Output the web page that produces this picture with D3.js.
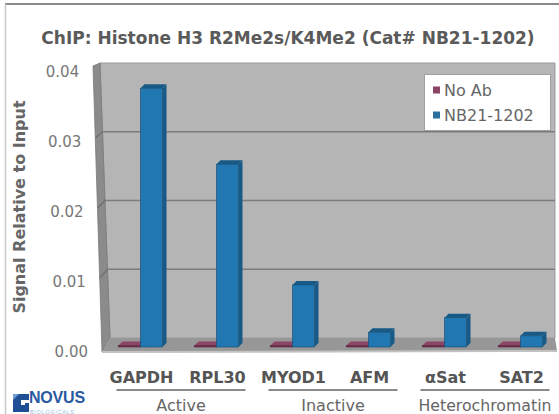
<!DOCTYPE html>
<html>
<head>
<meta charset="utf-8">
<script src="https://cdn.jsdelivr.net/npm/d3@7"></script>
<style>
html,body{margin:0;padding:0;background:#fff;}
svg{display:block;}
</style>
</head>
<body>
<svg id="chart" width="559" height="414"></svg>
<script>
// ---- data ----
const title = "ChIP: Histone H3 R2Me2s/K4Me2 (Cat# NB21-1202)";
const yAxisTitle = "Signal Relative to Input";
const categories = ["GAPDH", "RPL30", "MYOD1", "AFM", "\u03b1Sat", "SAT2"];
const seriesNames = ["No Ab", "NB21-1202"];
const noAbValues = [0.0002, 0.0002, 0.0002, 0.0002, 0.0002, 0.0002];
const nb21Values = [0.0371, 0.0262, 0.0089, 0.0021, 0.0042, 0.0016];
const yTicks = [0, 0.01, 0.02, 0.03, 0.04];
const groupNames = ["Active", "Inactive", "Heterochromatin"];
const groupMembers = [["GAPDH", "RPL30"], ["MYOD1", "AFM"], ["\u03b1Sat", "SAT2"]];

// ---- layout ----
const svg = d3.select("#chart");
const colors = {noAb: "#6f2c4a", noAbTop: "#8c4566", nb: "#2077b2", nbTop: "#185a87", nbEdge: "#154a70"};

// frame
svg.append("line").attr("x1", 5).attr("x2", 559).attr("y1", 4).attr("y2", 4)
  .attr("stroke", "#8a8a8a").attr("stroke-width", 2);
svg.append("line").attr("x1", 5.5).attr("x2", 5.5).attr("y1", 4).attr("y2", 414)
  .attr("stroke", "#c8c8c8").attr("stroke-width", 1.5);

// title
svg.append("text").attr("x", 288).attr("y", 44).attr("text-anchor", "middle")
  .attr("font-family", "DejaVu Sans").attr("font-weight", "bold").attr("font-size", 17)
  .attr("fill", "#5a5a5a").text(title);

// scales
const yBack = d3.scaleLinear().domain([0, 0.04]).range([338, 63]);
const yFront = d3.scaleLinear().domain([0, 0.04]).range([352, 72]);
const yBar = d3.scaleLinear().domain([0, 0.04]).range([347, 68]);
const x = d3.scaleBand().domain(categories).range([103.5, 559.5]);
const barW = 22;

// geometry helpers for the walls
const backLeft = y => 100 + 10 * (y - 63) / (338 - 63);
const frontLeft = y => 93 + 9 * (y - 66) / (352 - 66);
const wallRight = 555;

// back wall
svg.append("polygon")
  .attr("points", [[100, 63], [wallRight, 63], [wallRight, 338], [110, 338]].map(p => p.join(",")).join(" "))
  .attr("fill", "#b5b5b5").attr("stroke", "#9a9a9a").attr("stroke-width", 1);
// left side wall
svg.append("polygon")
  .attr("points", [[93, 66], [100, 63], [110, 338], [102, 352]].map(p => p.join(",")).join(" "))
  .attr("fill", "#8b8b8b").attr("stroke", "#7a7a7a").attr("stroke-width", 0.8);
// floor
svg.append("polygon")
  .attr("points", [[110, 338], [wallRight, 338], [wallRight + 2, 351], [102, 352]].map(p => p.join(",")).join(" "))
  .attr("fill", "#979797");
svg.append("line").attr("x1", 102).attr("x2", wallRight + 2).attr("y1", 352).attr("y2", 351)
  .attr("stroke", "#c2c2c2").attr("stroke-width", 2);

// gridlines
const gridVals = yTicks.filter(v => v > 0 && v < 0.04);
svg.append("g").selectAll("line").data(gridVals).join("line")
  .attr("x1", d => backLeft(yBack(d))).attr("x2", wallRight)
  .attr("y1", d => yBack(d)).attr("y2", d => yBack(d))
  .attr("stroke", "#7b7b7b").attr("stroke-width", 1.6);
svg.append("g").selectAll("line").data(gridVals).join("line")
  .attr("x1", d => frontLeft(yFront(d))).attr("x2", d => backLeft(yBack(d)))
  .attr("y1", d => yFront(d) - 4).attr("y2", d => yBack(d))
  .attr("stroke", "#6e6e6e").attr("stroke-width", 1.2);

// y tick labels
svg.append("g").selectAll("text").data(yTicks).join("text")
  .attr("x", d => frontLeft(yFront(d)) - 14)
  .attr("y", d => yFront(d) + 5)
  .attr("text-anchor", "end")
  .attr("font-family", "DejaVu Sans").attr("font-size", 15).attr("fill", "#777")
  .text(d => d3.format(".2f")(d));

// y axis title
svg.append("text").attr("transform", "translate(25,207) rotate(-90)")
  .attr("text-anchor", "middle")
  .attr("font-family", "DejaVu Sans").attr("font-weight", "bold").attr("font-size", 16)
  .attr("fill", "#666").text(yAxisTitle);

// bars
const dx = 4, dy = -4;
function bar3d(g, x0, value, front, top, edge) {
  const yt = yBar(value), yb = yBar(0);
  g.append("polygon")
    .attr("points", [[x0, yt], [x0 + dx, yt + dy], [x0 + barW + dx, yt + dy], [x0 + barW, yt]].map(p => p.join(",")).join(" "))
    .attr("fill", top);
  g.append("polygon")
    .attr("points", [[x0 + barW, yt], [x0 + barW + dx, yt + dy], [x0 + barW + dx, yb + dy], [x0 + barW, yb]].map(p => p.join(",")).join(" "))
    .attr("fill", top);
  g.append("rect").attr("x", x0).attr("y", yt).attr("width", barW).attr("height", Math.max(0, yb - yt))
    .attr("fill", front).attr("stroke", edge).attr("stroke-width", 0.6);
}
const barsG = svg.append("g");
categories.forEach((c, i) => {
  const cx = x(c) + x.bandwidth() / 2;
  bar3d(barsG, cx - barW - 1, noAbValues[i], colors.noAb, colors.noAbTop, "#5a2239");
  bar3d(barsG, cx - 1, nb21Values[i], colors.nb, colors.nbTop, colors.nbEdge);
});

// category labels
svg.append("g").selectAll("text").data(categories).join("text")
  .attr("x", d => x(d) + x.bandwidth() / 2)
  .attr("y", 383)
  .attr("text-anchor", "middle")
  .attr("font-family", "DejaVu Sans").attr("font-weight", "bold").attr("font-size", 16)
  .attr("fill", "#555").text(d => d);

// groups
const groupsG = svg.append("g");
groupNames.forEach((gname, gi) => {
  const mem = groupMembers[gi];
  const x1 = x(mem[0]) + 13;
  const x2 = x(mem[mem.length - 1]) + x.bandwidth() - 10;
  groupsG.append("line").attr("x1", x1).attr("x2", x2).attr("y1", 390).attr("y2", 390)
    .attr("stroke", "#8a8a8a").attr("stroke-width", 2);
  const t = groupsG.append("text").attr("x", (x1 + x2) / 2).attr("y", 411)
    .attr("text-anchor", "middle")
    .attr("font-family", "DejaVu Sans").attr("font-size", 16)
    .attr("fill", "#666").text(gname);
  const len = t.node().getComputedTextLength();
  const maxLen = (x2 - x1) + 4;
  if (len > maxLen) t.attr("textLength", maxLen).attr("lengthAdjust", "spacingAndGlyphs");
});

// legend
const lg = svg.append("g");
lg.append("rect").attr("x", 424.5).attr("y", 74.5).attr("width", 126).attr("height", 56)
  .attr("fill", "#fff").attr("stroke", "#a0a0a0").attr("stroke-width", 1);
seriesNames.forEach((s, i) => {
  const cy = 90 + i * 25;
  lg.append("rect").attr("x", 433).attr("y", cy - 3.5).attr("width", 7).attr("height", 7)
    .attr("fill", i === 0 ? "#8a4466" : "#2a6f9e");
  lg.append("text").attr("x", 444).attr("y", cy + 6)
    .attr("font-family", "DejaVu Sans").attr("font-size", 16).attr("fill", "#666").text(s);
});

// logo
const logo = svg.append("g");
logo.append("path")
  .attr("d", "M13,394 L29,394 L29,400 L21,400 L21,405 L25,405 L25,403 L29,403 L29,412 L13,412 Z")
  .attr("fill", "#1f4f95");
logo.append("path").attr("d", "M13,394 L19,394 L13,400 Z").attr("fill", "#6f9fd6");
logo.append("text").attr("x", 29).attr("y", 403)
  .attr("font-family", "Liberation Sans").attr("font-weight", "bold").attr("font-size", 16)
  .attr("fill", "#2a5aa0").attr("letter-spacing", -0.2).text("NOVUS");
logo.append("text").attr("x", 30).attr("y", 413.5)
  .attr("font-family", "Liberation Sans").attr("font-size", 5.5)
  .attr("fill", "#9dbde0").attr("letter-spacing", 0.7).text("BIOLOGICALS");
</script>
</body>
</html>
